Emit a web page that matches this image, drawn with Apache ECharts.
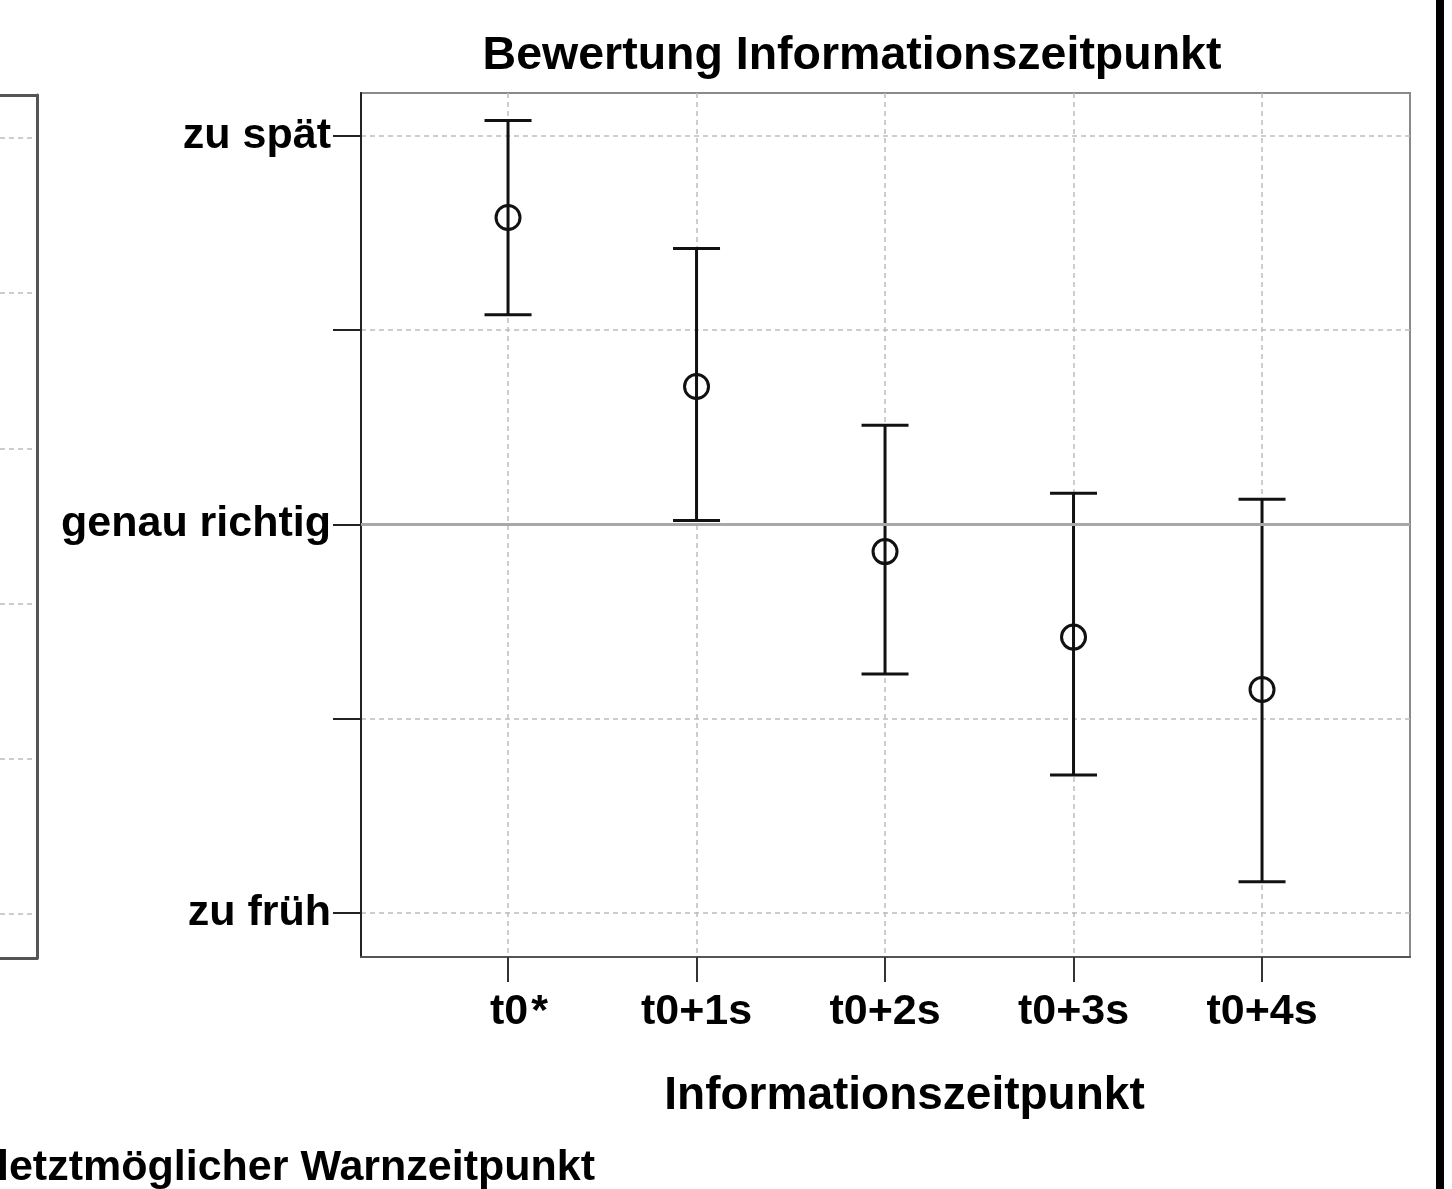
<!DOCTYPE html>
<html>
<head>
<meta charset="utf-8">
<script src="https://cdn.jsdelivr.net/npm/echarts@6/dist/echarts.min.js"></script>
<style>
html,body{margin:0;padding:0;background:#fff;}
#chart{width:1452px;height:1189px;}
</style>
</head>
<body>
<div id="chart"></div>
<script>
// ---- data ----
const categories = ['t0*', 't0+1s', 't0+2s', 't0+3s', 't0+4s'];
const categoryPositions = [1, 2, 3, 4, 5];
const means = [4.58, 3.71, 2.86, 2.42, 2.15];
const upperCI = [5.08, 4.42, 3.51, 3.16, 3.13];
const lowerCI = [4.08, 3.02, 2.23, 1.71, 1.16];
const yTickValues = [1, 2, 3, 4, 5];
const yTickLabels = {1: 'zu früh', 3: 'genau richtig', 5: 'zu spät'};
const leftPanelTicks = [0, 1, 2, 3, 4, 5];

const FONT = "'Liberation Sans', Arial, sans-serif";
const LBL = {fontFamily: FONT, fontWeight: 'bold', fontSize: 43, color: '#000'};

const meanData = categoryPositions.map((x, i) => [x, means[i]]);
const barData = categoryPositions.map((x, i) => [x, lowerCI[i], upperCI[i]]);

const chart = echarts.init(document.getElementById('chart'), null, {renderer: 'canvas'});

const panelLine = {show: true, onZero: false, lineStyle: {color: '#555', width: 3}};
const hidden = {show: false};

const option = {
  animation: false,
  backgroundColor: '#fff',
  grid: [
    {left: 361, top: 93, width: 1049, height: 864, show: true, borderColor: '#8a8a8a', borderWidth: 2, backgroundColor: 'transparent'},
    {left: 0, top: 95, width: 37, height: 863, show: false}
  ],
  xAxis: [
    {
      type: 'value', gridIndex: 0, min: 0.22, max: 5.785,
      name: 'Informationszeitpunkt', nameLocation: 'middle', nameGap: 116,
      nameTextStyle: {fontFamily: FONT, fontWeight: 'bold', fontSize: 46, color: '#000', padding: [0, 0, 0, 38]},
      axisLine: {show: true, onZero: false, lineStyle: {color: '#555', width: 2}},
      axisTick: {show: true, length: 25, customValues: categoryPositions, lineStyle: {color: '#333', width: 2}},
      axisLabel: Object.assign({}, LBL, {
        customValues: categoryPositions, margin: 34,
        formatter: function (v) {
          const c = categories[Math.round(v) - 1] || '';
          if (c.endsWith('*')) return '{g|' + c.slice(0, -1) + '}{s|*}';
          return c;
        },
        rich: {
          g: Object.assign({}, LBL, {padding: [0, 0, 0, 22]}),
          s: Object.assign({}, LBL, {padding: [0, 0, 0, 3]})
        }
      }),
      splitLine: {show: true, lineStyle: {color: '#bdbdbd', type: [5, 4], width: 1.5}}
    },
    {type: 'value', gridIndex: 1, min: 0, max: 1, position: 'bottom',
      axisLine: panelLine, axisTick: hidden, axisLabel: hidden, splitLine: hidden},
    {type: 'value', gridIndex: 1, min: 0, max: 1, position: 'top',
      axisLine: panelLine, axisTick: hidden, axisLabel: hidden, splitLine: hidden}
  ],
  yAxis: [
    {
      type: 'value', gridIndex: 0, min: 0.773, max: 5.221,
      axisLine: {show: true, onZero: false, lineStyle: {color: '#222', width: 2}},
      axisTick: {show: true, length: 28, customValues: yTickValues, lineStyle: {color: '#222', width: 2}},
      axisLabel: Object.assign({}, LBL, {
        customValues: yTickValues, margin: 30,
        formatter: v => yTickLabels[Math.round(v)] || ''
      }),
      splitLine: {show: true, lineStyle: {color: '#bdbdbd', type: [5, 4], width: 1.5}}
    },
    {
      type: 'value', gridIndex: 1, min: -0.283, max: 5.277, position: 'right',
      axisLine: panelLine, axisTick: {show: false, customValues: leftPanelTicks},
      axisLabel: {show: false, customValues: leftPanelTicks},
      splitLine: {show: true, lineStyle: {color: '#bdbdbd', type: [5, 4], width: 1.5}}
    }
  ],
  series: [
    {
      type: 'custom', xAxisIndex: 0, yAxisIndex: 0, z: 3,
      data: barData,
      renderItem: function (params, api) {
        const x = api.value(0), lo = api.value(1), hi = api.value(2);
        const pHi = api.coord([x, hi]);
        const pLo = api.coord([x, lo]);
        const hw = 23.5;
        const st = {stroke: '#111', lineWidth: 3};
        return {
          type: 'group',
          children: [
            {type: 'line', shape: {x1: pHi[0], y1: pHi[1], x2: pLo[0], y2: pLo[1]}, style: st},
            {type: 'line', shape: {x1: pHi[0] - hw, y1: pHi[1], x2: pHi[0] + hw, y2: pHi[1]}, style: st},
            {type: 'line', shape: {x1: pLo[0] - hw, y1: pLo[1], x2: pLo[0] + hw, y2: pLo[1]}, style: st}
          ]
        };
      }
    },
    {
      type: 'scatter', xAxisIndex: 0, yAxisIndex: 0, z: 1,
      data: [],
      markLine: {
        silent: true, symbol: 'none', label: {show: false},
        lineStyle: {color: '#a8a8a8', width: 3, type: 'solid'},
        data: [{yAxis: 3}]
      }
    },
    {
      type: 'scatter', xAxisIndex: 0, yAxisIndex: 0, z: 5,
      data: meanData,
      symbol: 'circle', symbolSize: 24,
      itemStyle: {color: 'rgba(255,255,255,0)', borderColor: '#111', borderWidth: 3, opacity: 1}
    }
  ],
  graphic: [
    {
      type: 'text', x: 852, y: 56,
      style: {text: 'Bewertung Informationszeitpunkt', font: 'bold 46.5px ' + FONT, fill: '#000', textAlign: 'center', textVerticalAlign: 'middle'}
    },
    {
      type: 'text', x: -3, y: 1168,
      style: {text: 'letztmöglicher Warnzeitpunkt', font: 'bold 43px ' + FONT, fill: '#000', textVerticalAlign: 'middle'}
    },
    {
      type: 'rect', left: 1436, top: 0,
      shape: {width: 8, height: 1189},
      style: {fill: '#000'}
    }
  ]
};
chart.setOption(option);
</script>
</body>
</html>
